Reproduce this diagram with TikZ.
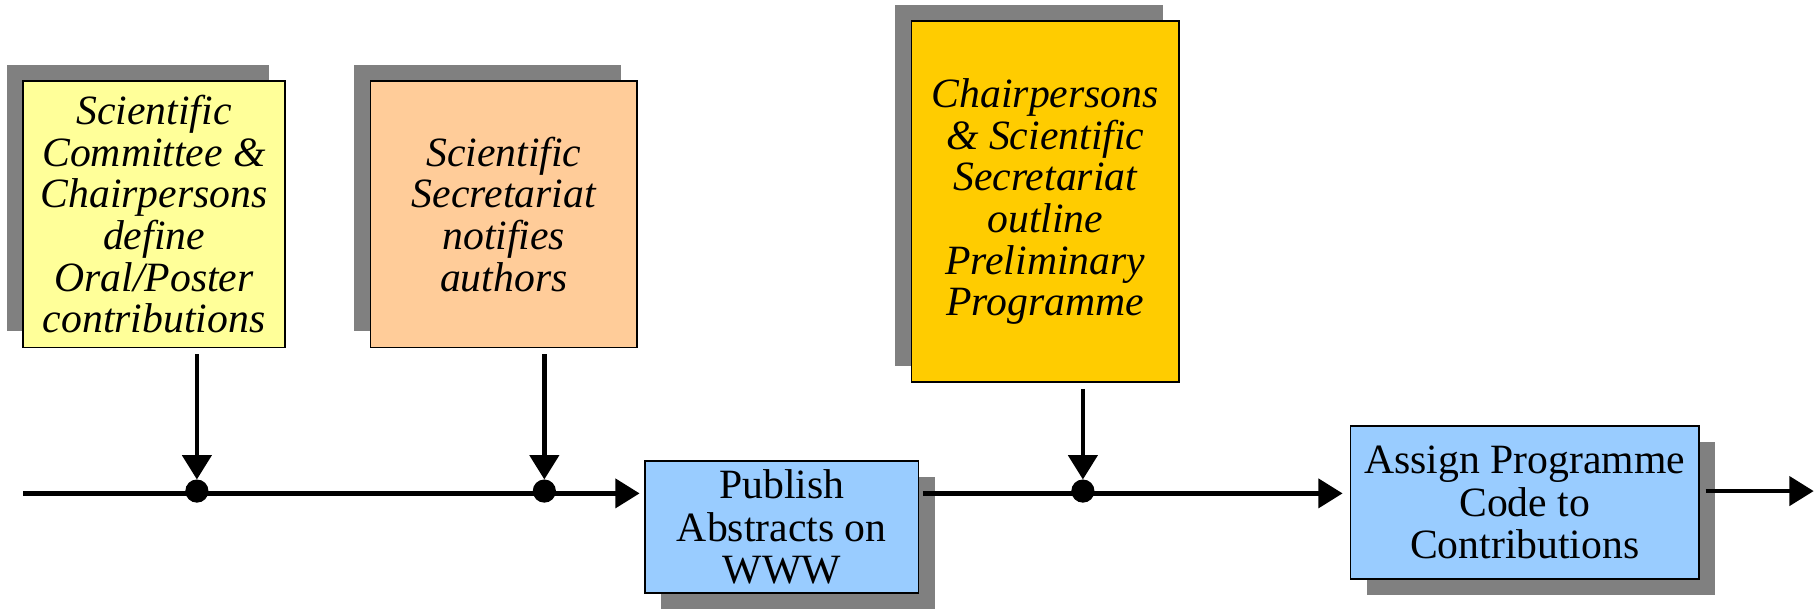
\documentclass[tikz,border=0pt]{standalone}
\usepackage{fontspec}
\setmainfont{Liberation Serif}
\usetikzlibrary{arrows.meta,shadows}
\definecolor{taskyellow}{HTML}{FFFF99}
\definecolor{taskorange}{HTML}{FFCC99}
\definecolor{taskgold}{HTML}{FFCC00}
\definecolor{actblue}{HTML}{99CCFF}
\begin{document}
\begin{tikzpicture}[x=1pt,y=-1pt,
  box/.style={draw, line width=1.5pt, align=center, inner sep=0pt, font=\fontsize{36}{36.5}\selectfont},
  task/.style={box, font=\itshape\fontsize{36}{36}\selectfont, drop shadow={shadow xshift=-14pt, shadow yshift=14pt, fill=black!50, opacity=1}},
  act/.style={box, fill=actblue, drop shadow={shadow xshift=14pt, shadow yshift=-14pt, fill=black!50, opacity=1}},
  flow/.style={line width=3.8pt, -{Triangle[length=21pt,width=25pt]}},
  dot/.style={circle, draw, fill, line width=1pt, inner sep=0pt, minimum size=19pt}]
\useasboundingbox (0,0) rectangle (1568,528);
\node[task, fill=taskyellow, minimum width=226pt, minimum height=230pt] (define) at (133,185) {Scientific\\Committee \&\\Chairpersons\\define\\Oral/Poster\\contributions};
\node[task, fill=taskorange, minimum width=230pt, minimum height=230pt] (notify) at (435,185) {Scientific\\Secretariat\\notifies\\authors};
\node[task, fill=taskgold, minimum width=231pt, minimum height=312pt] (outline) at (902.5,174) {Chairpersons\\\& Scientific\\Secretariat\\outline\\Preliminary\\Programme};
\node[act, minimum width=236pt, minimum height=114pt] (publish) at (675,455) {Publish\\Abstracts on\\WWW};
\node[act, minimum width=301pt, minimum height=132pt] (assign) at (1316.5,434) {Assign Programme\\Code to\\Contributions};
\coordinate (in) at (20,426);
\coordinate (out) at (1566,424);
\draw[flow, shorten >=4pt] (in) -- (publish.west |- in);
\draw[flow, shorten <=3pt, shorten >=6pt] (publish.east |- in) -- (assign.west |- in);
\draw[flow, shorten <=5pt] (assign.east |- out) -- (out);
\node[dot] (j1) at (170,424) {};
\node[dot] (j2) at (470,424) {};
\node[dot] (j3) at (935,424) {};
\draw[flow, shorten <=5pt] (j1 |- define.south) -- (j1.north);
\draw[flow, shorten <=5pt] (j2 |- notify.south) -- (j2.north);
\draw[flow, shorten <=5pt] (j3 |- outline.south) -- (j3.north);
\end{tikzpicture}
\end{document}
